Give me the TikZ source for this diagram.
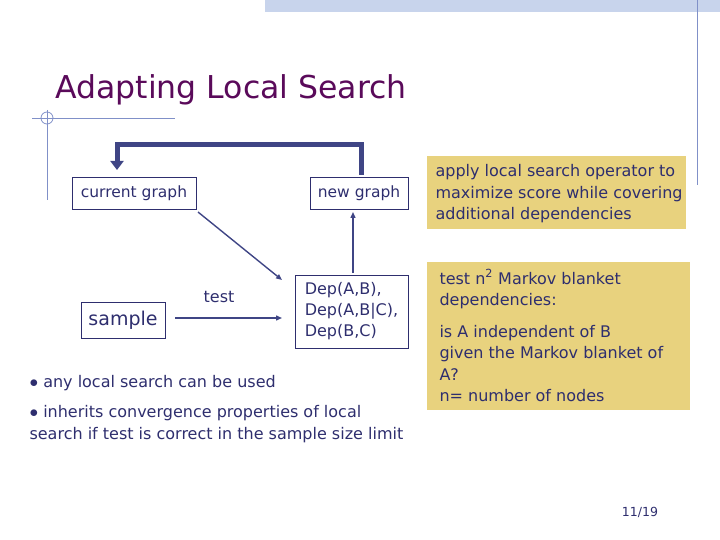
\documentclass[tikz,border=0pt]{standalone}
\usepackage{fontspec}
\setmainfont{DejaVu Sans}
\usetikzlibrary{arrows.meta}
\definecolor{navy}{HTML}{2E2E6E}
\definecolor{arr}{HTML}{3F4585}
\definecolor{ttl}{HTML}{5A0A5A}
\definecolor{ylw}{HTML}{E8D27E}
\definecolor{lblue}{HTML}{C8D4EC}
\definecolor{deco}{HTML}{8090C8}
\begin{document}
\begin{tikzpicture}[x=1pt,y=-1pt,
  box/.style={draw=navy,line width=0.6pt,text=navy,font=\fontsize{15.5}{18}\selectfont,inner sep=3pt},
  note/.style={fill=ylw,anchor=north west,inner sep=0pt},
  thin/.style={draw=arr,line width=1.4pt,-{Triangle[length=6pt,width=5pt]}},
  txt/.style={text=navy,font=\fontsize{16}{21.5}\selectfont,align=left}]
\useasboundingbox (0,0) rectangle (720,540);
\fill[lblue] (265,0) rectangle (720,12);
\draw[deco,line width=0.8pt] (697,0) -- (697,185);
\draw[deco,line width=0.8pt] (32,118) -- (175,118);
\draw[deco,line width=0.8pt] (47,110) -- (47,200);
\draw[deco,line width=0.8pt] (47,118) circle (6);
\node[anchor=west,text=ttl,font=\fontsize{31.5}{36}\selectfont] (title) at (52,90) {Adapting Local Search};
\node[box,minimum width=124pt,minimum height=32pt] (cur) at (134,193) {current graph};
\node[box,minimum width=98pt,minimum height=32pt] (new) at (359,193) {new graph};
\node[box,minimum width=84pt,minimum height=36pt,font=\fontsize{19}{22}\selectfont] (smp) at (123,320) {sample};
\node[box,minimum width=113pt,minimum height=73pt,align=left,font=\fontsize{16}{21}\selectfont] (dep) at (351.5,311.5) {Dep(A,B),\\Dep(A,B|C),\\Dep(B,C)};
\coordinate (up) at (361,145);
\coordinate (ul) at (117,145);
\draw[arr,line width=5pt,-{Triangle[length=9pt,width=13pt]}] (361,175) -- (up) -- (ul) -- (117,170);
\draw[thin] (198,212) -- (282,280);
\draw[thin] (175,318) -- (282,318);
\draw[thin] (353,273) -- (353,212);
\node[txt] (test) at (219,297) {test};
\node[note,minimum width=259pt,minimum height=73pt] (n1) at (427,156) {};
\node[txt,anchor=north west] (n1t) at (432,161) {apply local search operator to\\maximize score while covering\\additional dependencies};
\node[note,minimum width=263pt,minimum height=148pt] (n2) at (427,262) {};
\node[txt,anchor=north west] (n2t) at (436,266) {test n\textsuperscript{2} Markov blanket\\dependencies:\\[10pt]is A independent of B\\given the Markov blanket of\\A?\\n= number of nodes};
\node[txt,anchor=north west] (b1) at (26,372) {$\bullet$ any local search can be used};
\node[txt,anchor=north west] (b2) at (26,402) {$\bullet$ inherits convergence properties of local\\search if test is correct in the sample size limit};
\node[text=navy,font=\fontsize{12.5}{15}\selectfont] (pg) at (640,512) {11/19};
\end{tikzpicture}
\end{document}
